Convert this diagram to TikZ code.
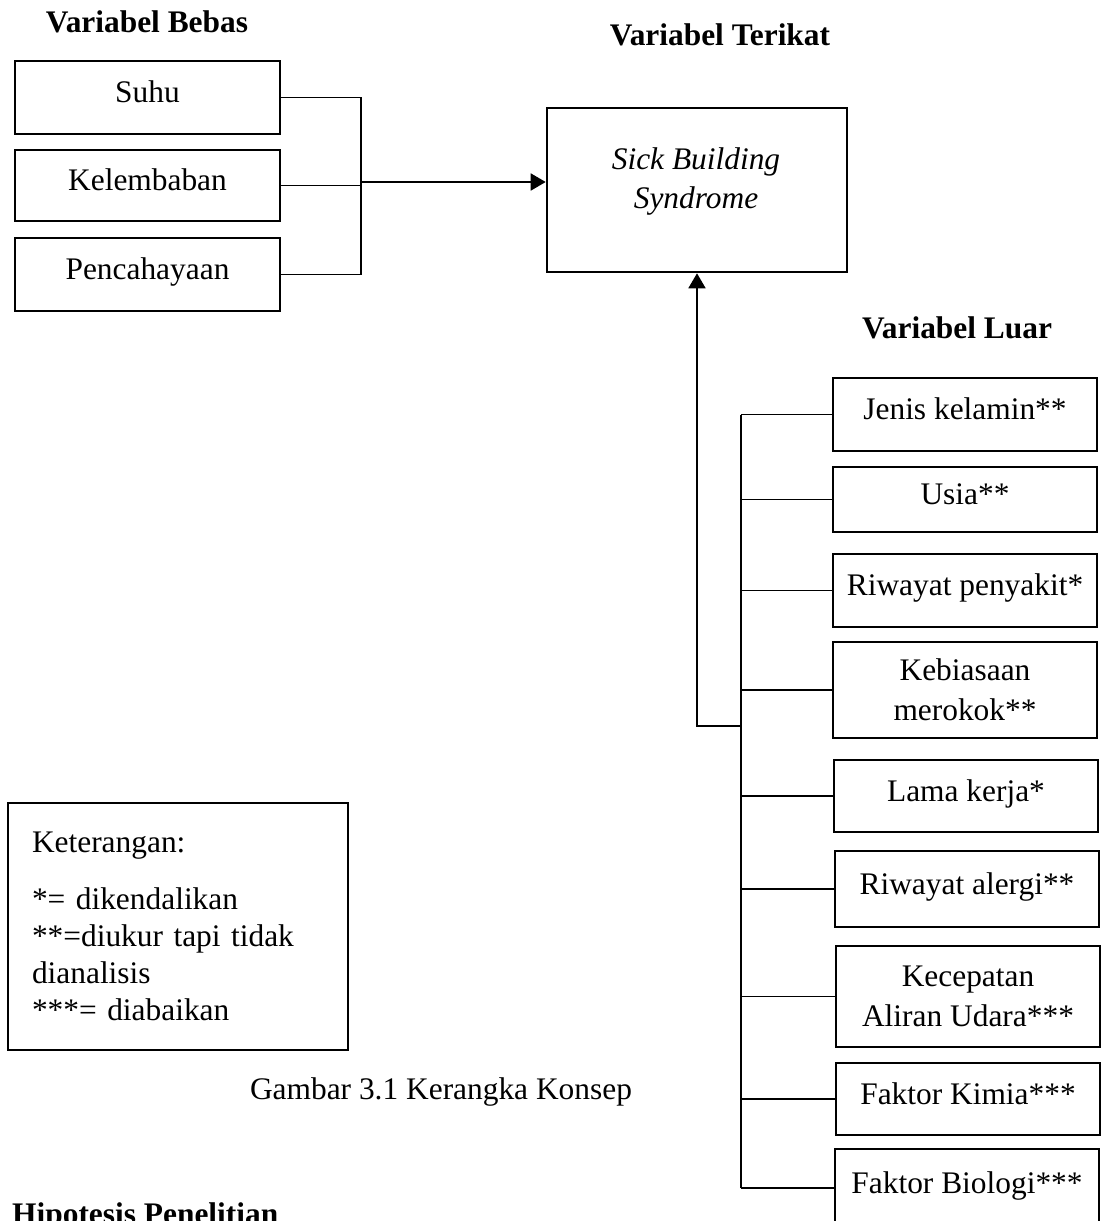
\documentclass[tikz,border=0pt]{standalone}
\usepackage{fontspec}
\setmainfont{Liberation Serif}
\usepackage{tikz}
\usetikzlibrary{shapes,arrows,arrows.meta,positioning}

\begin{document}
\begin{tikzpicture}[x=1pt,y=-1pt,
    kotak/.style={draw,line width=2.6pt,inner sep=0pt,align=center,font=\fontsize{31.4}{40}\selectfont},
    satu/.style={text height=21pt,text depth=11pt},
    kiri/.style={kotak,minimum width=265pt},
    kanan/.style={kotak,minimum width=264pt},
    judul/.style={font=\fontsize{31.4}{38}\selectfont\bfseries,anchor=base},
    garis/.style={line width=1.8pt},
    panah/.style={garis,-{Triangle[length=15pt,width=17pt]}}]
    \useasboundingbox (0,0) rectangle (1104,1221);

    % Variabel bebas
    \node[judul] (bebas) at (147,32) {Variabel Bebas};
    \node[kiri,satu,minimum height=73pt] (suhu) at (147.5,97.5) {Suhu};
    \node[kiri,satu,minimum height=71pt] (kelembaban) at (147.5,185.5) {Kelembaban};
    \node[kiri,satu,minimum height=73pt] (cahaya) at (147.5,274.5) {Pencahayaan};

    % Variabel terikat
    \node[judul] (terikat) at (720,45) {Variabel Terikat};
    \node[kotak,minimum width=300pt,minimum height=164pt] (sbs) at (697,190) {};
    \node[kotak,draw=none,font=\fontsize{31.4}{39}\selectfont\itshape] (sbsteks) at (696,181) {Sick Building\\Syndrome};

    % Variabel luar
    \node[judul] (luar) at (957,338) {Variabel Luar};
    \node[kanan,satu,minimum height=73pt] (kelamin) at (965,414.5) {Jenis kelamin**};
    \node[kanan,satu,minimum height=65pt] (usia) at (965,499.5) {Usia**};
    \node[kanan,satu,minimum height=73pt] (penyakit) at (965,590.5) {Riwayat penyakit*};
    \node[kanan,minimum height=96pt] (rokok) at (965,690) {Kebiasaan\\merokok**};
    \node[kanan,satu,minimum height=72pt] (kerja) at (966,796) {Lama kerja*};
    \node[kanan,satu,minimum height=76pt] (alergi) at (967,889) {Riwayat alergi**};
    \node[kanan,minimum height=101pt] (udara) at (968,996.5) {Kecepatan\\Aliran Udara***};
    \node[kanan,satu,minimum height=72pt] (kimia) at (968,1099) {Faktor Kimia***};
    \node[kanan,satu,minimum height=78pt] (biologi) at (967,1188) {Faktor Biologi***};

    % Garis penghubung
    \coordinate (gabung) at (361,182);
    \draw[garis] (suhu.east) -| (gabung);
    \draw[garis] (cahaya.east) -| (gabung);
    \draw[garis] (kelembaban.east) -- (kelembaban.east -| gabung);
    \draw[panah] (gabung) -- (gabung -| sbs.west);

    \coordinate (cabang) at (741,726);
    \draw[panah] (cabang) -| (sbs.south);
    \draw[garis] (kelamin.west -| cabang) -- (biologi.west -| cabang);
    \draw[garis] (kelamin.west) -- (kelamin.west -| cabang);
    \draw[garis] (usia.west) -- (usia.west -| cabang);
    \draw[garis] (penyakit.west) -- (penyakit.west -| cabang);
    \draw[garis] (rokok.west) -- (rokok.west -| cabang);
    \draw[garis] (kerja.west) -- (kerja.west -| cabang);
    \draw[garis] (alergi.west) -- (alergi.west -| cabang);
    \draw[garis] (udara.west) -- (udara.west -| cabang);
    \draw[garis] (kimia.west) -- (kimia.west -| cabang);
    \draw[garis] (biologi.west) -- (biologi.west -| cabang);

    % Keterangan
    \node[draw,line width=2.6pt,minimum width=340pt,minimum height=247pt,inner xsep=24pt,
        align=left,text width=292pt,font=\fontsize{31.4}{37}\selectfont] (ket) at (178,926.5)
        {Keterangan:\\[20pt]{*}= dikendalikan\\{**}=diukur tapi tidak\\dianalisis\\{***}= diabaikan};

    \node[font=\fontsize{31.4}{38}\selectfont,anchor=base] (gambar) at (441,1099) {Gambar 3.1 Kerangka Konsep};
    \node[judul,anchor=base west,inner sep=0pt] (hipotesis) at (12,1224) {Hipotesis Penelitian};
\end{tikzpicture}
\end{document}
